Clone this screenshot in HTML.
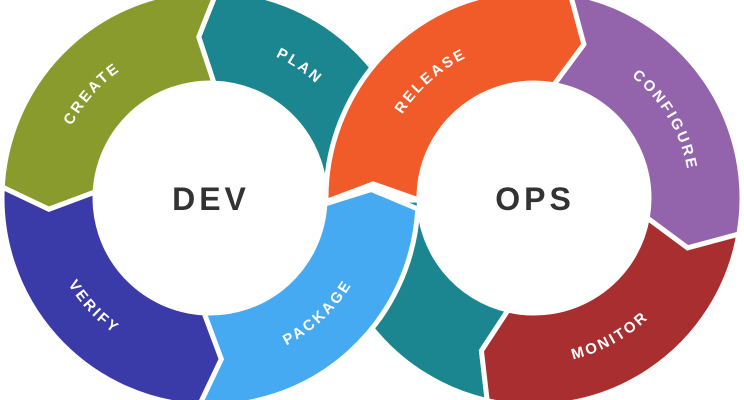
<!DOCTYPE html>
<html><head><meta charset="utf-8">
<style>
html,body{margin:0;padding:0;background:#fff;}
svg{display:block;}
.lbl{font-family:"Liberation Sans",sans-serif;font-weight:bold;font-size:15px;letter-spacing:2.5px;fill:#fff;}
.big{font-family:"Liberation Sans",sans-serif;font-weight:bold;font-size:32px;letter-spacing:4px;fill:#333;}
</style></head>
<body>
<svg id="s" width="744" height="400" viewBox="0 0 744 400" xmlns="http://www.w3.org/2000/svg">
<defs>
<path id="dt" d="M 54,198 A156 156 0 0 1 366,198"/>
<path id="db" d="M 44,198 A166 166 0 0 0 376,198"/>
<path id="ot" d="M 378,198 A156 156 0 0 1 690,198"/>
<path id="ob" d="M 368,198 A166 166 0 0 0 700,198"/>
</defs>
<g id="segs"></g>
<g id="txt">
<text class="lbl" text-anchor="middle"><textPath href="#dt" startOffset="23%">CREATE</textPath></text>
<text class="lbl" text-anchor="middle"><textPath href="#dt" startOffset="69%">PLAN</textPath></text>
<text class="lbl" text-anchor="middle"><textPath href="#db" startOffset="24%">VERIFY</textPath></text>
<text class="lbl" text-anchor="middle"><textPath href="#db" startOffset="74%">PACKAGE</textPath></text>
<text class="lbl" text-anchor="middle"><textPath href="#ot" startOffset="27%">RELEASE</textPath></text>
<text class="lbl" text-anchor="middle"><textPath href="#ot" startOffset="83%">CONFIGURE</textPath></text>
<text class="lbl" text-anchor="middle"><textPath href="#ob" startOffset="66%">MONITOR</textPath></text>
<text class="big" x="211" y="210" text-anchor="middle">DEV</text>
<text class="big" x="535" y="210" text-anchor="middle">OPS</text>
</g>
</svg>
<script>
(function(){
var RI=115,RO=208,RM=161.5;
function p(cx,cy,r,a){var t=a*Math.PI/180;return (cx+r*Math.cos(t)).toFixed(2)+","+(cy+r*Math.sin(t)).toFixed(2);}
function seg(cx,cy,a1,m1,a2,m2,col){
  var large=(a2-a1)>180?1:0;
  var d="M "+p(cx,cy,RO,a1)+" A "+RO+" "+RO+" 0 "+large+" 1 "+p(cx,cy,RO,a2)+
  " L "+p(cx,cy,RM,m2)+" L "+p(cx,cy,RI,a2)+
  " A "+RI+" "+RI+" 0 "+large+" 0 "+p(cx,cy,RI,a1)+
  " L "+p(cx,cy,RM,m1)+" Z";
  return '<path d="'+d+'" fill="'+col+'" stroke="#fff" stroke-width="5" stroke-linejoin="miter"/>';
}
var D=[210,198],O=[534,198];
var h="";
h+=seg(D[0],D[1],272,266,352,352,"#1B8690"); // PLAN
h+=seg(O[0],O[1],103,109,179,179,"#1B8690"); // teal bottom
h+=seg(O[0],O[1],179,185,280,288,"#F15A29"); // RELEASE
h+=seg(D[0],D[1],3,-3,93,86,"#45AAF2"); // PACKAGE
h+=seg(D[0],D[1],183,176,272,266,"#899B2C"); // CREATE
h+=seg(D[0],D[1],93,86,183,176,"#3A3AA8"); // VERIFY
h+=seg(O[0],O[1],280,288,370,378,"#9364AC"); // CONFIGURE
h+=seg(O[0],O[1],10,18,103,109,"#A92E30"); // MONITOR
document.getElementById("segs").innerHTML=h;
})();
</script>
</body></html>
